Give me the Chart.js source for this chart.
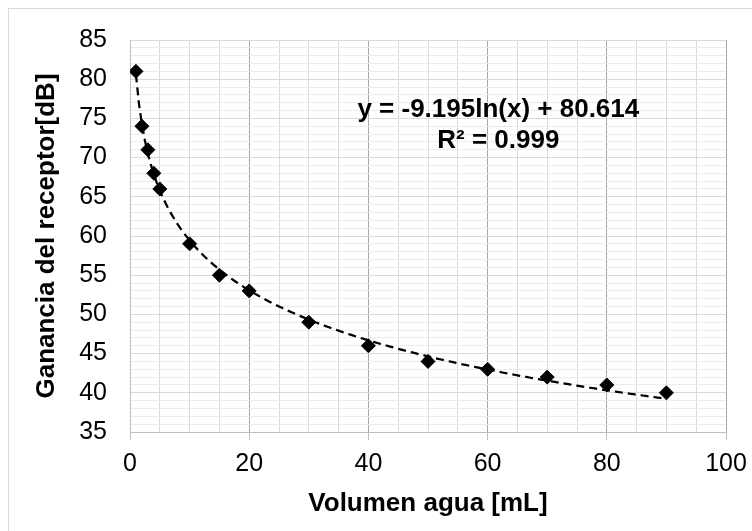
<!DOCTYPE html>
<html>
<head>
<meta charset="utf-8">
<script src="https://cdn.jsdelivr.net/npm/chart.js@4/dist/chart.umd.min.js"></script>
<style>
  html, body { margin: 0; padding: 0; background: #fff; overflow: hidden; }
  .marco { position: absolute; left: 8px; top: 8px; width: 780px; height: 560px; border: 1px solid #d9d9d9; }
  .contenedor { position: absolute; left: 0; top: 0; width: 752px; height: 531px; }
</style>
</head>
<body>
<div class="marco"></div>
<div class="contenedor"><canvas id="gananciaChart"></canvas></div>
<script>
// Mediciones: volumen de agua [mL] vs ganancia del receptor [dB]
const volumen = [1, 2, 3, 4, 5, 10, 15, 20, 30, 40, 50, 60, 70, 80, 90];
const ganancia = [81, 74, 71, 68, 66, 59, 55, 53, 49, 46, 44, 43, 42, 41, 40];

// Ajuste logaritmico y = a*ln(x) + b
const coefA = -9.195;
const coefB = 80.614;
const r2 = 0.999;

const puntos = volumen.map((x, i) => ({ x: x, y: ganancia[i] }));

const tendencia = [];
for (let x = 1; x <= 90; x += 0.5) {
  tendencia.push({ x: x, y: coefA * Math.log(x) + coefB });
}

const fuente = "'Liberation Sans', Arial, sans-serif";

// Texto de la ecuacion sobre el area del grafico
const ecuacionPlugin = {
  id: "ecuacion",
  afterDatasetsDraw(chart) {
    const { ctx, scales } = chart;
    const cx = scales.x.getPixelForValue(61.8);
    const y1 = scales.y.getPixelForValue(75.18);
    ctx.save();
    ctx.fillStyle = "#000";
    ctx.font = "bold 26px " + fuente;
    ctx.textAlign = "center";
    ctx.textBaseline = "alphabetic";
    ctx.fillText("y = " + coefA.toFixed(3) + "ln(x) + " + coefB.toFixed(3), cx, y1);
    ctx.fillText("R² = " + r2.toFixed(3), cx, y1 + 30.6);
    ctx.restore();
  },
};

const ctx = document.getElementById("gananciaChart").getContext("2d");

new Chart(ctx, {
  type: "scatter",
  data: {
    datasets: [
      {
        label: "Ganancia",
        data: puntos,
        pointStyle: "rectRot",
        pointRadius: 7,
        backgroundColor: "#000",
        borderColor: "#000",
        borderWidth: 1,
        showLine: false,
      },
      {
        label: "Tendencia",
        data: tendencia,
        showLine: true,
        pointRadius: 0,
        borderColor: "#000",
        borderWidth: 2.25,
        borderDash: [8, 5],
        fill: false,
      },
    ],
  },
  options: {
    responsive: true,
    maintainAspectRatio: false,
    animation: false,
    layout: { padding: { left: 0, top: 40, right: 26, bottom: 0 } },
    plugins: {
      legend: { display: false },
      tooltip: { enabled: false },
    },
    scales: {
      x: {
        type: "linear",
        min: 0,
        max: 100,
        afterFit: (scale) => {
          scale.height = 99;
          scale.paddingLeft = 0;
          scale.paddingRight = 0;
        },
        ticks: {
          stepSize: 5,
          autoSkip: false,
          maxRotation: 0,
          padding: 9,
          color: "#000",
          font: { family: fuente, size: 25 },
          callback: (v) => (v % 20 === 0 ? v : ""),
        },
        grid: {
          color: (c) => (c.tick && c.tick.value % 20 === 0 ? "#a6a6a6" : "#d9d9d9"),
          tickColor: (c) => (c.tick && c.tick.value % 20 === 0 ? "#bfbfbf" : "rgba(0,0,0,0)"),
          tickLength: 8,
          lineWidth: 1,
        },
        border: { display: true, color: "#bfbfbf" },
        title: {
          display: true,
          text: "Volumen agua [mL]",
          color: "#000",
          font: { family: fuente, size: 26, weight: "bold" },
          padding: { top: 0, bottom: 12 },
        },
      },
      y: {
        type: "linear",
        min: 35,
        max: 85,
        afterFit: (scale) => { scale.width = 130; },
        ticks: {
          stepSize: 1,
          autoSkip: false,
          padding: 23,
          color: "#000",
          font: { family: fuente, size: 25 },
          callback: (v) => (v % 5 === 0 ? v : ""),
        },
        grid: {
          color: (c) => (c.tick && c.tick.value % 5 === 0 ? "#d9d9d9" : "#ececec"),
          drawTicks: false,
          lineWidth: 1,
        },
        border: { display: true, color: "#bfbfbf" },
        title: {
          display: true,
          text: "Ganancia del receptor[dB]",
          color: "#000",
          font: { family: fuente, size: 26, weight: "bold" },
          padding: { top: 31, bottom: 0 },
        },
      },
    },
  },
  plugins: [ecuacionPlugin],
});
</script>
</body>
</html>
